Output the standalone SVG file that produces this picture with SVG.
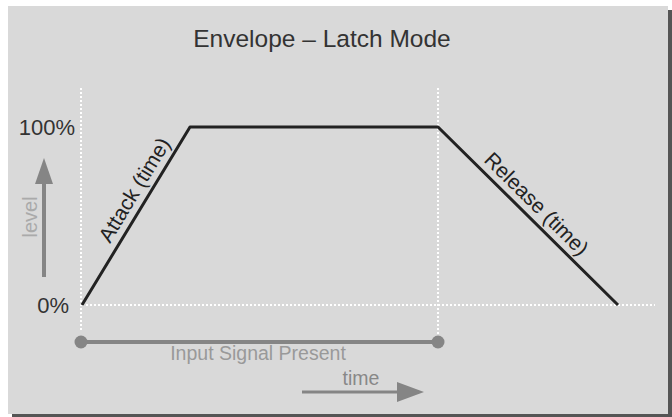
<svg xmlns="http://www.w3.org/2000/svg" width="672" height="417" viewBox="0 0 672 417">
<style>
text{font-family:"Liberation Sans",Arial,sans-serif}
.dot{stroke:#fff;stroke-width:2;stroke-dasharray:2 2;fill:none}
.env{stroke:#222;stroke-width:3;fill:none;stroke-linejoin:round}
.gray{stroke:#858585;stroke-width:4;fill:none}
</style>
<rect x="0" y="0" width="672" height="417" fill="#fff"/>
<rect x="12" y="10" width="660" height="407" fill="#555"/>
<rect x="8" y="6" width="660" height="408" fill="#d9d9d9"/>
<g id="title"><text x="322" y="47" font-size="24.5" fill="#333" text-anchor="middle">Envelope – Latch Mode</text></g>
<g id="guides">
<line class="dot" x1="81" y1="88" x2="81" y2="332"/>
<line class="dot" x1="438" y1="88" x2="438" y2="336"/>
<line class="dot" x1="82" y1="305" x2="655" y2="305"/>
</g>
<g id="axis-labels">
<text x="75" y="135" font-size="22" fill="#333" text-anchor="end">100%</text>
<text x="69" y="313" font-size="22" fill="#333" text-anchor="end">0%</text>
</g>
<g id="level">
<line x1="44" y1="277" x2="44" y2="180" stroke="#858585" stroke-width="4"/>
<polygon points="35,184 53,184 44,158" fill="#858585"/>
<text transform="translate(37 217) rotate(-90)" font-size="20" fill="#aaa" text-anchor="middle">level</text>
</g>
<g id="connectors">
<polyline class="env" points="82,305 190,127 438,127 618,305"/>
</g>
<g id="attack"><text transform="translate(110 244) rotate(-58.8)" font-size="21" fill="#222">Attack (time)</text></g>
<g id="release"><text transform="translate(483 161) rotate(44.7)" font-size="21" fill="#222">Release (time)</text></g>
<g id="input-signal">
<line class="gray" x1="81" y1="342" x2="438" y2="342"/>
<circle cx="81" cy="342" r="6.5" fill="#858585"/>
<circle cx="438" cy="342" r="6.5" fill="#858585"/>
<text x="258" y="360" font-size="19.5" fill="#999" text-anchor="middle">Input Signal Present</text>
</g>
<g id="time">
<text x="361" y="385" font-size="19.5" fill="#888" text-anchor="middle">time</text>
<line x1="302" y1="392" x2="400" y2="392" stroke="#858585" stroke-width="3"/>
<polygon points="397,382 397,402 424,392" fill="#858585"/>
</g>
</svg>
